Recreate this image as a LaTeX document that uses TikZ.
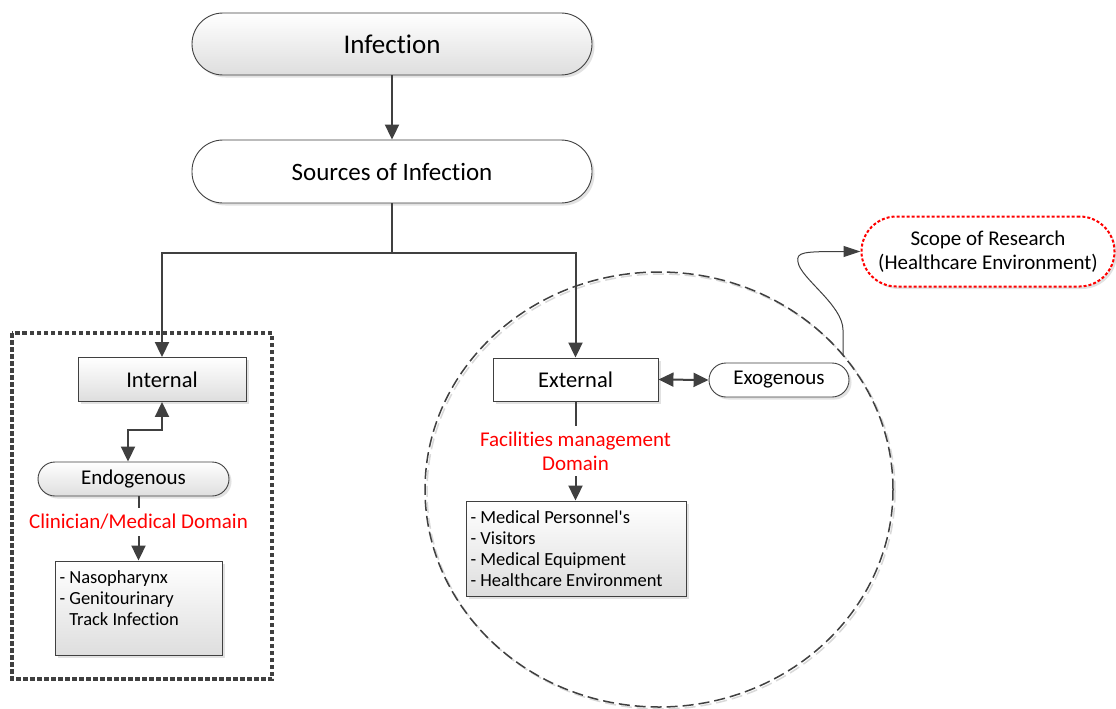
\documentclass[tikz,border=0pt]{standalone}
\usepackage{fontspec}
\setmainfont{Carlito}[Ligatures=NoCommon]
\usetikzlibrary{arrows.meta,shadows}
\definecolor{ink}{HTML}{404040}
% straight apostrophe, placed as a glyph so the TeX mapping leaves it alone
\newcommand{\straightquote}{\XeTeXglyph\XeTeXcharglyph"0027\relax}

\begin{document}
\begin{tikzpicture}[x=1pt,y=-1pt,
  every node/.style={font=\fontsize{21}{24}\selectfont, text=black},
  softshadow/.style={drop shadow={shadow xshift=2.5pt, shadow yshift=-2.5pt, fill=black!14, opacity=0.8}},
  rectbox/.style={draw=ink, line width=0.9pt, inner sep=0pt, softshadow},
  pillbox/.style={rectbox, rounded corners=#1},
  graded/.style={top color=white, bottom color=black!13},
  blank/.style={fill=white},
  listtext/.style={font=\fontsize{18.5}{21}\selectfont, inner xsep=4.5pt, inner ysep=10pt},
  redtag/.style={text=red, inner sep=0pt, align=center},
  wire/.style={draw=ink, line width=2pt},
  link/.style={wire, -{Triangle[length=15pt,width=14pt]}},
  biglink/.style={wire, {Triangle[length=15pt,width=14pt]}-{Triangle[length=15pt,width=14pt]}},
  zone/.style={draw=ink, line width=3.5pt, dash pattern=on 4.5pt off 2.5pt},
  scopeline/.style={draw=red, line width=2pt, dash pattern=on 3pt off 2pt},
]
\fill[white] (0,0) rectangle (1116,709);
\useasboundingbox (0,0) rectangle (1116,709);

% dashed boundary of the external sources
\draw[black!15, line width=1.5pt, dash pattern=on 11pt off 5pt]
  (661,491.5) ellipse [x radius=234pt, y radius=217.5pt];
\draw[ink, line width=1.5pt, dash pattern=on 11pt off 5pt]
  (659,489.5) ellipse [x radius=234pt, y radius=217.5pt];
\coordinate (rim) at (843,356);

% dotted frame round the internal sources
\draw[zone] (12,333) rectangle (272,679);

% main chain
\node[pillbox=31pt, graded, minimum width=400pt, minimum height=62pt,
      font=\fontsize{27}{30}\selectfont] (infection) at (392,44) {Infection};
\node[pillbox=31pt, blank, minimum width=400pt, minimum height=63pt,
      font=\fontsize{25}{30}\selectfont] (sources) at (392,171.5) {Sources of Infection};

% internal branch
\node[rectbox, graded, minimum width=168pt, minimum height=44pt,
      font=\fontsize{22.5}{27}\selectfont] (internal) at (162,379.5) {Internal};
\node[pillbox=17pt, graded, minimum width=191pt, minimum height=34pt] (endo) at (133.5,479) {Endogenous};
\node[redtag, minimum height=28pt] (clin) at (138.5,522) {Clinician/Medical Domain};
\node[rectbox, graded, listtext] (naso) at (138.5,608)
  {\parbox[c][74pt][t]{158pt}{- Nasopharynx\\- Genitourinary\\\hphantom{- }Track Infection}};

% external branch
\node[rectbox, blank, minimum width=165pt, minimum height=43pt,
      font=\fontsize{22.5}{27}\selectfont] (external) at (575.5,379.5) {External};
\node[pillbox=17pt, blank, minimum width=140pt, minimum height=34pt] (exo) at (779,380) {Exogenous};
\node[redtag, minimum height=50pt] (fac) at (575.5,451) {Facilities management\\Domain};
\node[rectbox, graded, listtext] (medical) at (576,548.5)
  {\parbox[c][75pt][t]{211pt}{- Medical Personnel\straightquote s\\- Visitors\\- Medical Equipment\\- Healthcare Environment}};

% scope note
\node[pillbox=35pt, blank, scopeline, minimum width=253pt, minimum height=70pt,
      align=center] (scope) at (988,251.5) {Scope of Research\\(Healthcare Environment)};

% connectors
\coordinate (bus) at (392,253);
\draw[link] (infection.south) -- (sources.north);
\draw[wire] (sources.south) -- (bus);
\draw[link] (bus) -| (internal.north);
\draw[link] (bus) -| (external.north);
\draw[biglink] (internal.south) -- ++(0,28) -| ([xshift=-5.5pt]endo.north);
\draw[wire] (endo.south -| clin.north) -- (clin.north);
\draw[link] (clin.south) -- (clin.south |- naso.north);
\draw[biglink] (external.east) -- (exo.west);
\draw[wire] (external.south) -- (fac.north);
\draw[link] (fac.south) -- (fac.south |- medical.north);
\draw[ink, line width=1pt, -{Triangle[length=17pt,width=11pt]}]
  (rim) -- (843,330) .. controls (843,305) and (800,278) .. (798,262)
  .. controls (796,252) and (803,251.5) .. (scope.west);
\end{tikzpicture}
\end{document}
